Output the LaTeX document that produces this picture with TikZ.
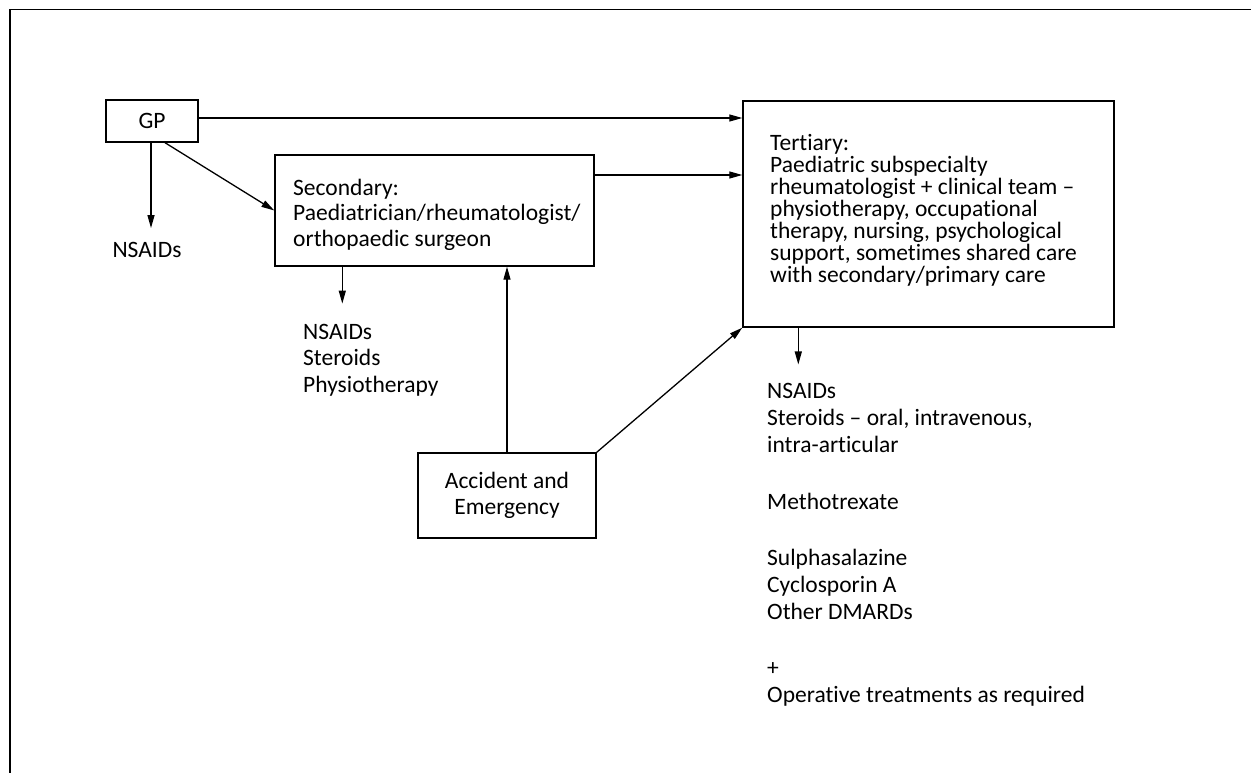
\documentclass[tikz,border=0pt]{standalone}
\usepackage{fontspec}
\setmainfont{Carlito}[Ligatures=NoCommon]
\usetikzlibrary{arrows.meta,calc}
\lineskiplimit=-20pt
\begin{document}
\begin{tikzpicture}[x=1pt,y=-1pt,
  every node/.style={font=\fontsize{23.5}{26.7}\selectfont},
  box/.style={draw, line width=1.4pt, inner sep=0pt},
  txt/.style={inner sep=0pt, align=left, anchor=west},
  arr/.style={line width=1.3pt, -{Triangle[length=13pt,width=7pt]}}]
\useasboundingbox (0,0) rectangle (1251,773);
\draw[line width=1.6pt] (10,773) -- (10,9.5) -- (1251,9.5);
% boxes
\node[box, minimum width=92pt, minimum height=42pt] (gp) at (152,121) {GP};
\node[box, minimum width=319pt, minimum height=111pt] (sec) at (434.5,210.5) {};
\node[txt, font=\fontsize{23.5}{25.5}\selectfont] (sectxt) at (293,214.5)
  {Secondary:\\Paediatrician/rheumatologist/\\orthopaedic surgeon};
\node[box, minimum width=371pt, minimum height=226pt] (tert) at (928.5,214) {};
\node[txt, font=\fontsize{23.5}{22}\selectfont] (terttxt) at (770,210.5)
  {Tertiary:\\Paediatric subspecialty\\rheumatologist + clinical team --\\physiotherapy, occupational\\therapy, nursing, psychological\\support, sometimes shared care\\with secondary/primary care};
\node[box, minimum width=178pt, minimum height=85pt, align=center] (ae) at (507,495.5)
  {Accident and\\Emergency};
% treatment lists
\node[inner sep=0pt] (gpn) at (147,250) {NSAIDs};
\node[txt] (secn) at (303,360) {NSAIDs\\Steroids\\Physiotherapy};
\node[txt] (tertn) at (767,545) {NSAIDs\\Steroids -- oral, intravenous,\\intra-articular\\[30pt]Methotrexate\\[30pt]Sulphasalazine\\Cyclosporin A\\Other DMARDs\\[30pt]+\\Operative treatments as required};
% connectors
\draw[arr] ([yshift=3pt]gp.east) -- ([yshift=3pt]gp.east -| tert.west);
\draw[arr] ([xshift=13pt]gp.south) -- (sec.west);
\draw[arr] ([xshift=-1pt]gp.south) -- ([xshift=-1pt,yshift=14pt]gp.south |- gpn.north);
\draw[arr] ([yshift=35.5pt]sec.east) -- ([yshift=35.5pt]sec.east -| tert.west);
\coordinate (s1) at ([xshift=68pt]sec.south west);
\draw[arr] (s1) -- ([yshift=20pt]s1 |- secn.north);
\draw[arr] (ae.north) -- (ae.north |- sec.south);
\draw[arr] (ae.north east) -- (tert.south west);
\coordinate (t1) at ([xshift=56pt]tert.south west);
\draw[arr] (t1) -- ([yshift=19pt]t1 |- tertn.north);
\end{tikzpicture}
\end{document}
